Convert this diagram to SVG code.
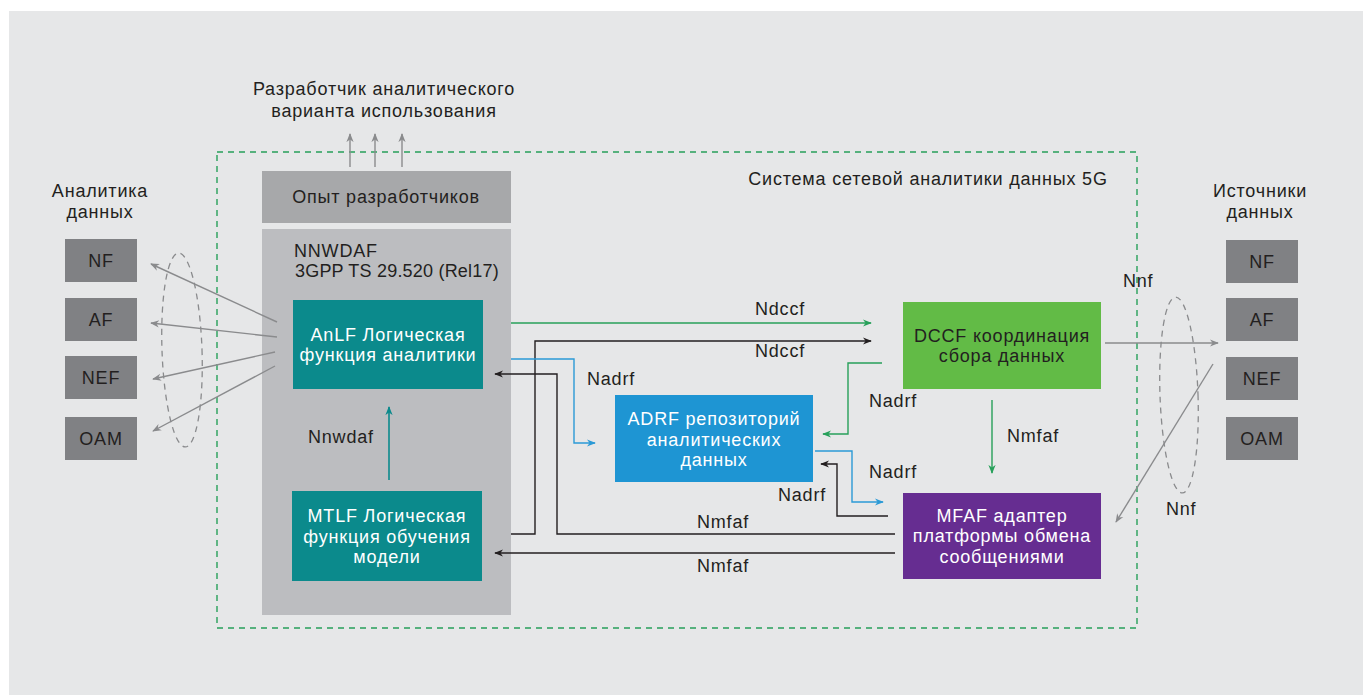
<svg xmlns="http://www.w3.org/2000/svg" width="1363" height="695" viewBox="0 0 1363 695">
<style>
text{font-family:"Liberation Sans",Arial,sans-serif;font-size:18px;letter-spacing:0.8px;fill:#231f20}
.c{text-anchor:middle}
.w{fill:#ffffff}
.g{stroke:#8a8b8d;stroke-width:1.4;fill:none}
.gd{stroke:#8a8b8d;stroke-width:1.3;fill:none;stroke-dasharray:6 5}
.k{stroke:#231f20;stroke-width:1.4;fill:none}
.gr{stroke:#27a05a;stroke-width:1.4;fill:none}
.bl{stroke:#2b9ad6;stroke-width:1.4;fill:none}
.tl{stroke:#0b8a8c;stroke-width:1.6;fill:none}
.src{fill:#808184}
</style>
<defs>
<marker id="ag" viewBox="0 0 10 10" refX="9" refY="5" markerWidth="9" markerHeight="9" markerUnits="userSpaceOnUse" orient="auto"><path d="M0,1 L10,5 L0,9 L3,5 Z" fill="#8a8b8d"/></marker>
<marker id="ak" viewBox="0 0 10 10" refX="9" refY="5" markerWidth="9" markerHeight="9" markerUnits="userSpaceOnUse" orient="auto"><path d="M0,1 L10,5 L0,9 L3,5 Z" fill="#231f20"/></marker>
<marker id="agr" viewBox="0 0 10 10" refX="9" refY="5" markerWidth="9" markerHeight="9" markerUnits="userSpaceOnUse" orient="auto"><path d="M0,1 L10,5 L0,9 L3,5 Z" fill="#27a05a"/></marker>
<marker id="abl" viewBox="0 0 10 10" refX="9" refY="5" markerWidth="9" markerHeight="9" markerUnits="userSpaceOnUse" orient="auto"><path d="M0,1 L10,5 L0,9 L3,5 Z" fill="#2b9ad6"/></marker>
<marker id="atl" viewBox="0 0 10 10" refX="9" refY="5" markerWidth="9" markerHeight="9" markerUnits="userSpaceOnUse" orient="auto"><path d="M0,1 L10,5 L0,9 L3,5 Z" fill="#0b8a8c"/></marker>
</defs>
<rect x="9" y="11" width="1354" height="684" fill="#e6e7e8"/>

<g id="system-boundary">
<rect x="217" y="152" width="920" height="476" fill="none" stroke="#27a05a" stroke-width="1.4" stroke-dasharray="6 5"/>
<text x="928" y="185" class="c">Система сетевой аналитики данных 5G</text>
</g>

<g id="developer">
<text x="384" y="95" class="c">Разработчик аналитического</text>
<text x="384" y="117" class="c">варианта использования</text>
</g>

<g id="dev-experience">
<rect x="262" y="171" width="249" height="52" fill="#a7a8aa"/>
<text x="386" y="203" class="c">Опыт разработчиков</text>
</g>

<g id="nnwdaf">
<rect x="262" y="229" width="249" height="386" fill="#bcbdc0"/>
<text x="294" y="257">NNWDAF</text>
<text x="295" y="277" style="letter-spacing:0.2px">3GPP TS 29.520 (Rel17)</text>
</g>

<g id="anlf">
<rect x="293" y="300" width="190" height="89" fill="#0b8a8c"/>
<text x="388" y="341" class="c w">AnLF Логическая</text>
<text x="388" y="361" class="c w">функция аналитики</text>
</g>

<g id="mtlf">
<rect x="292" y="491" width="190" height="90" fill="#0b8a8c"/>
<text x="387" y="522" class="c w">MTLF Логическая</text>
<text x="387" y="543" class="c w">функция обучения</text>
<text x="387" y="563" class="c w">модели</text>
</g>

<g id="adrf">
<rect x="615" y="395" width="198" height="87" fill="#1e95d3"/>
<text x="714" y="425" class="c w">ADRF репозиторий</text>
<text x="714" y="446" class="c w">аналитических</text>
<text x="714" y="466" class="c w">данных</text>
</g>

<g id="dccf">
<rect x="903" y="302" width="198" height="87" fill="#62bb46"/>
<text x="1002" y="342" class="c">DCCF координация</text>
<text x="1002" y="362" class="c">сбора данных</text>
</g>

<g id="mfaf">
<rect x="903" y="493" width="198" height="86" fill="#662d91"/>
<text x="1002" y="522" class="c w">MFAF адаптер</text>
<text x="1002" y="542" class="c w">платформы обмена</text>
<text x="1002" y="563" class="c w">сообщениями</text>
</g>

<g id="analytics-consumers">
<text x="100" y="197" class="c">Аналитика</text>
<text x="100" y="218" class="c">данных</text>
<g id="cons-nf"><rect x="65" y="239" width="72" height="43" class="src"/><text x="101" y="267" class="c">NF</text></g>
<g id="cons-af"><rect x="65" y="298" width="72" height="43" class="src"/><text x="101" y="326" class="c">AF</text></g>
<g id="cons-nef"><rect x="65" y="356" width="72" height="43" class="src"/><text x="101" y="384" class="c">NEF</text></g>
<g id="cons-oam"><rect x="65" y="417" width="72" height="43" class="src"/><text x="101" y="445" class="c">OAM</text></g>
</g>

<g id="data-sources">
<text x="1260" y="197" class="c">Источники</text>
<text x="1260" y="218" class="c">данных</text>
<g id="src-nf"><rect x="1226" y="240" width="72" height="43" class="src"/><text x="1262" y="268" class="c">NF</text></g>
<g id="src-af"><rect x="1226" y="298" width="72" height="43" class="src"/><text x="1262" y="326" class="c">AF</text></g>
<g id="src-nef"><rect x="1226" y="357" width="72" height="43" class="src"/><text x="1262" y="385" class="c">NEF</text></g>
<g id="src-oam"><rect x="1226" y="417" width="72" height="43" class="src"/><text x="1262" y="445" class="c">OAM</text></g>
</g>

<g id="connectors">
<path class="g" d="M350,167 V134" marker-end="url(#ag)"/>
<path class="g" d="M375,167 V134" marker-end="url(#ag)"/>
<path class="g" d="M402,167 V134" marker-end="url(#ag)"/>
<ellipse cx="182" cy="350" rx="20" ry="97" class="gd" transform="rotate(-2 182 350)"/>
<path class="g" d="M277,322 L151,264" marker-end="url(#ag)"/>
<path class="g" d="M277,337 L151,323" marker-end="url(#ag)"/>
<path class="g" d="M275,352 L153,379" marker-end="url(#ag)"/>
<path class="g" d="M275,366 L153,431" marker-end="url(#ag)"/>
<ellipse cx="1179" cy="395" rx="19" ry="98" class="gd" transform="rotate(-2 1179 395)"/>
<path class="g" d="M1105,343 H1218" marker-end="url(#ag)"/>
<path class="g" d="M1213,364 L1116,522" marker-end="url(#ag)"/>
<text x="1123" y="287">Nnf</text>
<text x="1166" y="515">Nnf</text>
<path class="tl" d="M389,480 V407" marker-end="url(#atl)"/>
<text x="308" y="443">Nnwdaf</text>
<path class="gr" d="M511,323 H871" marker-end="url(#agr)"/>
<text x="780" y="315" class="c">Ndccf</text>
<path class="k" d="M511,534 H535 V341 H871" marker-end="url(#ak)"/>
<text x="780" y="357" class="c">Ndccf</text>
<path class="bl" d="M511,359 H574 V443 H595" marker-end="url(#abl)"/>
<text x="587" y="385">Nadrf</text>
<path class="k" d="M895,534 H557 V374 H495" marker-end="url(#ak)"/>
<text x="723" y="528" class="c">Nmfaf</text>
<path class="k" d="M895,553 H495" marker-end="url(#ak)"/>
<text x="723" y="572" class="c">Nmfaf</text>
<path class="gr" d="M882,363 H848 V434 H823" marker-end="url(#agr)"/>
<text x="869" y="407">Nadrf</text>
<path class="bl" d="M815,451 H852 V502 H883" marker-end="url(#abl)"/>
<text x="869" y="478">Nadrf</text>
<path class="k" d="M888,516 H837 V464 H821" marker-end="url(#ak)"/>
<text x="778" y="501">Nadrf</text>
<path class="gr" d="M992,400 V473" marker-end="url(#agr)"/>
<text x="1007" y="442">Nmfaf</text>
</g>
</svg>
